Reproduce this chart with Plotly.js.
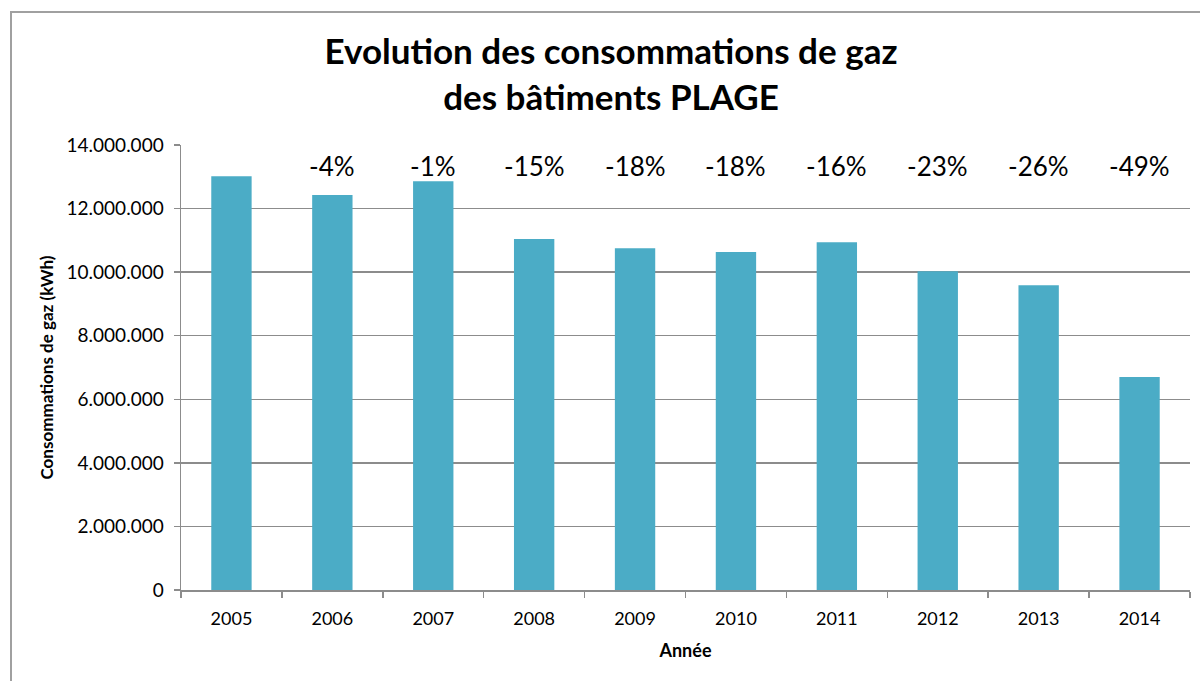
<!DOCTYPE html>
<html>
<head>
<meta charset="utf-8">
<script src="https://cdn.plot.ly/plotly-3.0.1.min.js"></script>
<style>
html,body{margin:0;padding:0;background:#fff;}
#wrap{position:relative;width:1200px;height:681px;overflow:hidden;}
#chart{position:absolute;left:0;top:0;width:1200px;height:681px;}
#frame{position:absolute;left:10px;top:11px;width:1300px;height:800px;border-left:2px solid #a0a0a0;border-top:2px solid #a0a0a0;pointer-events:none;}
</style>
</head>
<body>
<div id="wrap"><div id="chart"></div><div id="frame"></div></div>
<script>
const years = ['2005','2006','2007','2008','2009','2010','2011','2012','2013','2014'];
const consumption = [13020000, 12430000, 12860000, 11040000, 10750000, 10630000, 10940000, 10030000, 9590000, 6700000];
const changeLabels = ['', '-4%', '-1%', '-15%', '-18%', '-18%', '-16%', '-23%', '-26%', '-49%'];
const yTicks = [0, 2000000, 4000000, 6000000, 8000000, 10000000, 12000000, 14000000];

const FONT = 'Lato, "Open Sans", sans-serif';

const trace = {
  type: 'bar',
  x: years,
  y: consumption,
  marker: {color: '#4bacc6'},
  hoverinfo: 'x+y'
};

const annotations = [];
years.forEach((yr, i) => {
  if (changeLabels[i] === '') return;
  annotations.push({
    x: i, xref: 'x',
    y: 1, yref: 'paper', yanchor: 'top', yshift: -3,
    text: changeLabels[i],
    showarrow: false,
    font: {family: FONT, size: 26, color: '#000'}
  });
});

const layout = {
  width: 1200, height: 681,
  margin: {l: 181, r: 10, t: 145, b: 91},
  paper_bgcolor: 'rgba(0,0,0,0)',
  plot_bgcolor: '#fff',
  separators: ',.',
  bargap: 0.6,
  showlegend: false,
  title: {
    text: '<b>Evolution des consommations de gaz<br>des bâtiments PLAGE</b>',
    x: 611/1200, xanchor: 'center', xref: 'container',
    y: 1 - 64/681, yanchor: 'top', yref: 'container',
    font: {family: FONT, size: 35, color: '#000'}
  },
  xaxis: {
    type: 'category',
    categoryorder: 'array', categoryarray: years,
    range: [-0.5, years.length - 0.5],
    autorange: false,
    showgrid: false,
    showline: true, linecolor: '#8c8c8c', linewidth: 1.5,
    ticks: 'outside', tickson: 'boundaries', ticklen: 6, tickcolor: '#8c8c8c', tickwidth: 1.5,
    ticklabelstandoff: 12,
    tickfont: {family: FONT, size: 18, color: '#000'},
    tickangle: 0,
    title: {text: '<b>Année</b>', font: {family: FONT, size: 18, color: '#000'}, standoff: 16},
    fixedrange: true
  },
  yaxis: {
    range: [0, 14000000],
    autorange: false,
    tickvals: yTicks,
    tickformat: ',d',
    showgrid: true, gridcolor: '#8c8c8c', gridwidth: 1.5,
    zeroline: false,
    showline: true, linecolor: '#8c8c8c', linewidth: 1.5,
    ticks: 'outside', ticklen: 6, tickcolor: '#8c8c8c', tickwidth: 1.5,
    ticklabelstandoff: 6,
    tickfont: {family: FONT, size: 19, color: '#000'},
    title: {text: '<b>Consommations de gaz (kWh)</b>', font: {family: FONT, size: 17, color: '#000'}, standoff: 8},
    fixedrange: true
  },
  annotations: annotations
};

Plotly.newPlot('chart', [trace], layout, {displayModeBar: false, staticPlot: true});
</script>
</body>
</html>
